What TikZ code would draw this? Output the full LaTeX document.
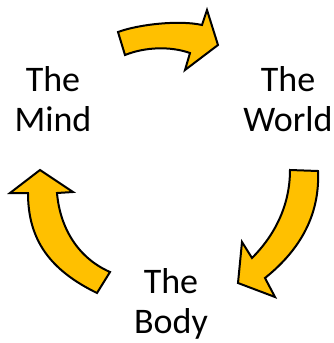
\documentclass[tikz,border=0pt]{standalone}
\usepackage{fontspec}
\setmainfont{Carlito}
\usetikzlibrary{positioning}
\definecolor{gold}{RGB}{255,192,0}
\definecolor{ink}{RGB}{0,0,0}
\tikzset{
  lbl/.style={align=center, text=ink, inner sep=0pt, font=\fontsize{36}{40}\selectfont},
  bigarr/.style={draw=ink, fill=gold, line width=2pt, line join=miter},
}
\begin{document}
\begin{tikzpicture}[x=1pt, y=-1pt]
  \useasboundingbox (0,0) rectangle (334,343);

  \node[lbl, anchor=north] (mind) at (53,66) {The\\Mind};
  \node[lbl, anchor=north] (world) at (288,66) {The\\World};
  \node[lbl, anchor=north] (body) at (171,268) {The\\Body};

  % mind -> world
  \draw[bigarr] (118,32) .. controls (140,24) and (180,20) .. (202,25)
    -- (207,10) -- (218,45) -- (185,70) -- (190,53)
    .. controls (170,46) and (145,47) .. (125,55) -- cycle;
  % world -> body
  \draw[bigarr] (290,170) -- (318,171) .. controls (320,215) and (300,250) .. (265,278)
    -- (275,297) -- (238,283) -- (242,242) -- (252,258)
    .. controls (275,235) and (290,205) .. (290,170) -- cycle;
  % body -> mind
  \draw[bigarr] (40,170) -- (73,192) -- (57,193)
    .. controls (60,228) and (78,258) .. (110,272) -- (97,293)
    .. controls (50,270) and (28,240) .. (28,193) -- (10,193) -- cycle;
\end{tikzpicture}
\end{document}
